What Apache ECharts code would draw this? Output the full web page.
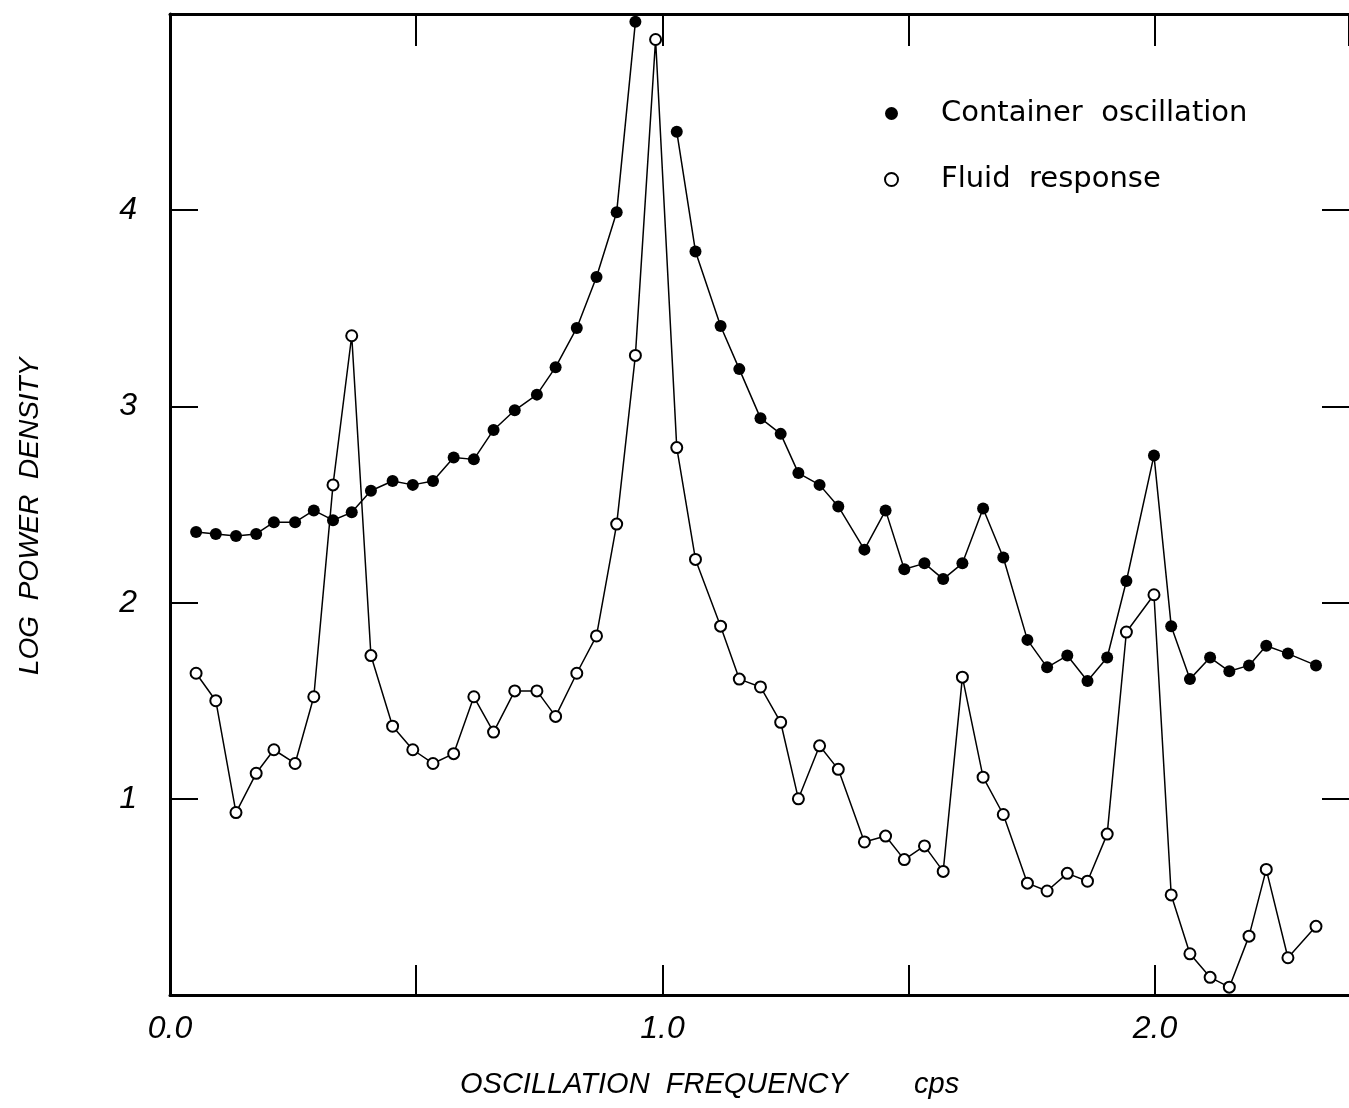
<!DOCTYPE html>
<html>
<head>
<meta charset="utf-8">
<script src="https://cdn.jsdelivr.net/npm/echarts@6/dist/echarts.min.js"></script>
<style>
html,body{margin:0;padding:0;background:#fff;}
#chart{width:1349px;height:1108px;}
</style>
</head>
<body>
<div id="chart"></div>
<script>
// Oscillation frequency (cps) of each plotted point
const freq = [0.053,0.093,0.134,0.175,0.211,0.254,0.292,0.331,0.369,0.408,
  0.452,0.493,0.534,0.576,0.617,0.657,0.700,0.745,0.783,0.826,
  0.866,0.907,0.945,0.986,1.029,1.067,1.118,1.156,1.199,1.240,
  1.276,1.319,1.357,1.410,1.453,1.491,1.532,1.570,1.609,1.651,
  1.692,1.741,1.781,1.822,1.863,1.903,1.942,1.998,2.033,2.071,
  2.112,2.151,2.191,2.226,2.270,2.327];
// Log power density, container oscillation (filled dots); null = off scale
const container = [2.36,2.35,2.34,2.35,2.41,2.41,2.47,2.42,2.46,2.57,
  2.62,2.60,2.62,2.74,2.73,2.88,2.98,3.06,3.20,3.40,
  3.66,3.99,4.96,null,4.40,3.79,3.41,3.19,2.94,2.86,
  2.66,2.60,2.49,2.27,2.47,2.17,2.20,2.12,2.20,2.48,
  2.23,1.81,1.67,1.73,1.60,1.72,2.11,2.75,1.88,1.61,
  1.72,1.65,1.68,1.78,1.74,1.68];
// Log power density, fluid response (open circles)
const fluid = [1.64,1.50,0.93,1.13,1.25,1.18,1.52,2.60,3.36,1.73,
  1.37,1.25,1.18,1.23,1.52,1.34,1.55,1.55,1.42,1.64,
  1.83,2.40,3.26,4.87,2.79,2.22,1.88,1.61,1.57,1.39,
  1.00,1.27,1.15,0.78,0.81,0.69,0.76,0.63,1.62,1.11,
  0.92,0.57,0.53,0.62,0.58,0.82,1.85,2.04,0.51,0.21,
  0.09,0.04,0.30,0.64,0.19,0.35];
const xTickLabels = {0:'0.0', 1:'1.0', 2:'2.0'};
const yTickLabels = {1:'1', 2:'2', 3:'3', 4:'4'};
const seriesNames = ['Container oscillation', 'Fluid response'];
const legendLabels = {'Container oscillation':'Container  oscillation', 'Fluid response':'Fluid  response'};
const xTitle = 'OSCILLATION  FREQUENCY';
const xUnit = 'cps';
const yTitle = 'LOG  POWER  DENSITY';

const chart = echarts.init(document.getElementById('chart'));
const pairs = arr => freq.map((f, i) => [f, arr[i]]);
const labelFont = {fontFamily:'Liberation Sans', fontStyle:'italic', fontSize:32, color:'#000'};
const axisLine = show => ({show:show, onZero:false, lineStyle:{color:'#000', width:3}});
const tick = len => ({show:true, inside:true, length:len, lineStyle:{color:'#000', width:2}});
const X_MAX = 2.394;

chart.setOption({
  animation:false,
  backgroundColor:'#fff',
  grid:{left:170, right:0, top:14, bottom:113},
  xAxis:[
    {type:'value', position:'bottom', min:0, max:X_MAX, interval:0.5,
     axisLine:axisLine(true), axisTick:tick(30), splitLine:{show:false},
     axisLabel:Object.assign({margin:18, showMaxLabel:false,
       formatter:v => xTickLabels[v] || ''}, labelFont)},
    {type:'value', position:'top', min:0, max:X_MAX, interval:0.5,
     axisLine:axisLine(true), axisTick:tick(32), splitLine:{show:false},
     axisLabel:{show:false}}
  ],
  yAxis:[
    {type:'value', position:'left', min:0, max:5, interval:1,
     axisLine:axisLine(true), axisTick:tick(28), splitLine:{show:false},
     axisLabel:Object.assign({margin:33, formatter:v => yTickLabels[v] || ''}, labelFont)},
    {type:'value', position:'right', min:0, max:5, interval:1,
     axisLine:axisLine(false), axisTick:tick(27), splitLine:{show:false},
     axisLabel:{show:false}}
  ],
  legend:{
    orient:'vertical', left:879, top:91, itemWidth:13, itemHeight:13, itemGap:31,
    formatter:name => legendLabels[name],
    textStyle:{fontFamily:'DejaVu Sans', fontSize:29, color:'#000', padding:[0,0,0,38], lineHeight:35},
    data:[
      {name:seriesNames[0], icon:'circle', itemStyle:{color:'#000', borderWidth:0}},
      {name:seriesNames[1], icon:'circle', itemStyle:{color:'#fff', borderColor:'#000', borderWidth:2}}
    ]
  },
  graphic:[
    {type:'text', left:460, top:1070, style:{text:xTitle, fontFamily:'Liberation Sans', fontStyle:'italic', fontSize:29, fill:'#000'}},
    {type:'text', left:914, top:1070, style:{text:xUnit, fontFamily:'Liberation Sans', fontStyle:'italic', fontSize:29, fill:'#000'}},
    {type:'text', x:16, y:675, rotation:Math.PI/2, style:{text:yTitle, fontFamily:'Liberation Sans', fontStyle:'italic', fontSize:28, fill:'#000', textVerticalAlign:'top'}}
  ],
  series:[
    {name:seriesNames[0], type:'line', xAxisIndex:0, yAxisIndex:0, data:pairs(container), connectNulls:false,
     symbol:'circle', symbolSize:12, lineStyle:{color:'#000', width:1.5},
     itemStyle:{color:'#000'}, z:2},
    {name:seriesNames[1], type:'line', xAxisIndex:0, yAxisIndex:0, data:pairs(fluid),
     symbol:'circle', symbolSize:11, lineStyle:{color:'#000', width:1.5},
     itemStyle:{color:'#fff', borderColor:'#000', borderWidth:2}, z:3}
  ]
});
</script>
</body>
</html>
